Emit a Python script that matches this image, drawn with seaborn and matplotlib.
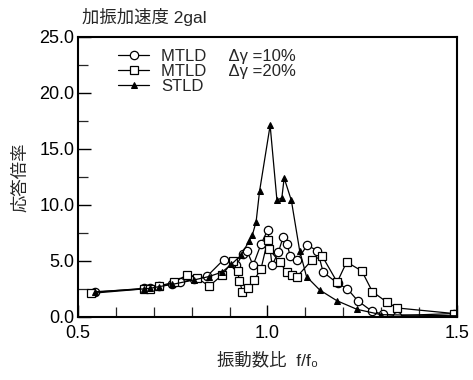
import matplotlib
matplotlib.use("Agg")
import matplotlib.pyplot as plt
import seaborn as sns
import pandas as pd
from matplotlib.ticker import MultipleLocator, FormatStrFormatter

# ---- data ----
f_m10 = [0.544, 0.673, 0.69, 0.713, 0.748, 0.77, 0.806, 0.841, 0.884, 0.917, 0.935, 0.946,
         0.962, 0.983, 1.001, 1.012, 1.029, 1.041, 1.052, 1.06, 1.079, 1.105, 1.132, 1.147,
         1.185, 1.211, 1.238, 1.276, 1.305, 1.342, 1.493]
r_m10 = [2.2, 2.55, 2.55, 2.75, 2.95, 3.1, 3.35, 3.65, 5.1, 4.6, 5.6, 5.9,
         4.6, 6.5, 7.8, 4.6, 5.8, 7.1, 6.5, 5.4, 5.1, 6.4, 5.9, 4.0,
         3.0, 2.5, 1.45, 0.5, 0.25, 0.12, 0.3]

f_m20 = [0.533, 0.673, 0.69, 0.713, 0.753, 0.788, 0.813, 0.846, 0.881, 0.908, 0.921, 0.926,
         0.934, 0.948, 0.965, 0.983, 1.001, 1.003, 1.032, 1.051, 1.065, 1.078, 1.118, 1.145,
         1.184, 1.209, 1.249, 1.277, 1.316, 1.342, 1.493]
r_m20 = [2.1, 2.5, 2.5, 2.75, 3.1, 3.75, 3.5, 2.75, 3.75, 5.0, 4.1, 3.2,
         2.25, 2.6, 3.3, 4.3, 6.9, 6.1, 4.9, 4.0, 3.75, 3.6, 5.1, 5.4,
         3.1, 4.9, 4.1, 2.25, 1.3, 0.8, 0.3]

f_st = [0.544, 0.673, 0.69, 0.713, 0.748, 0.806, 0.845, 0.88, 0.905, 0.93, 0.952, 0.96,
        0.97, 0.979, 1.007, 1.025, 1.038, 1.044, 1.063, 1.085, 1.103, 1.138, 1.183, 1.236,
        1.3, 1.5]
r_st = [2.25, 2.5, 2.55, 2.7, 2.9, 3.3, 3.6, 4.0, 4.7, 5.5, 6.8, 7.3,
        8.5, 11.2, 17.1, 10.4, 10.65, 12.4, 10.4, 5.9, 3.6, 2.4, 1.45, 0.68,
        0.2, 0.1]

labels = ["MTLD     \u0394\u03b3 =10%", "MTLD     \u0394\u03b3 =20%", "STLD"]
title = "加振加速度 2gal"
xlabel = "振動数比  f/f\u2080"
ylabel = "応答倍率"
xticks = [0.5, 1.0, 1.5]
yticks = [0.0, 5.0, 10.0, 15.0, 20.0, 25.0]

sns.set_style("ticks")
plt.rcParams["font.family"] = ["Liberation Sans", "Noto Sans CJK JP", "DejaVu Sans"]

fig = plt.figure(figsize=(4.73, 3.80), dpi=100)
ax = fig.add_axes([0.165, 0.166, 0.801, 0.737])

d1 = pd.DataFrame({"f": f_m10, "r": r_m10})
d2 = pd.DataFrame({"f": f_m20, "r": r_m20})
d3 = pd.DataFrame({"f": f_st, "r": r_st})

sns.lineplot(data=d1, x="f", y="r", ax=ax, sort=False, color="black", lw=0.9,
             marker="o", markersize=6, markerfacecolor="white", markeredgecolor="black",
             markeredgewidth=0.9, label=labels[0])
sns.lineplot(data=d2, x="f", y="r", ax=ax, sort=False, color="black", lw=0.9,
             marker="s", markersize=6, markerfacecolor="white", markeredgecolor="black",
             markeredgewidth=0.9, label=labels[1])
sns.lineplot(data=d3, x="f", y="r", ax=ax, sort=False, color="black", lw=0.9,
             marker="^", markersize=4.5, markerfacecolor="black", markeredgecolor="black",
             label=labels[2])

ax.set_xlim(0.5, 1.5)
ax.set_ylim(0, 25)
ax.set_xticks(xticks)
ax.set_yticks(yticks)
ax.xaxis.set_minor_locator(MultipleLocator(0.1))
ax.yaxis.set_minor_locator(MultipleLocator(2.5))
ax.xaxis.set_major_formatter(FormatStrFormatter("%.1f"))
ax.yaxis.set_major_formatter(FormatStrFormatter("%.1f"))
ax.tick_params(axis="both", which="major", direction="in", length=9, width=1,
               labelsize=13, colors="black", pad=2.5)
ax.tick_params(axis="both", which="minor", direction="in", length=7, width=0.9)
ax.tick_params(axis="x", which="major", pad=6)
for s in ax.spines.values():
    s.set_linewidth(1.5)
    s.set_color("black")

ax.set_xlabel(xlabel, fontsize=12.5, labelpad=7)
ax.set_ylabel(ylabel, fontsize=12.5, labelpad=8)
fig.text(0.173, 0.955, title, fontsize=12.5, ha="left", va="center")

leg = ax.legend(loc="upper left", bbox_to_anchor=(0.105, 0.958), frameon=False,
                fontsize=12, handlelength=1.9, handletextpad=0.7, labelspacing=0.0,
                borderpad=0, borderaxespad=0)

fig.savefig("out.png", dpi=100)
